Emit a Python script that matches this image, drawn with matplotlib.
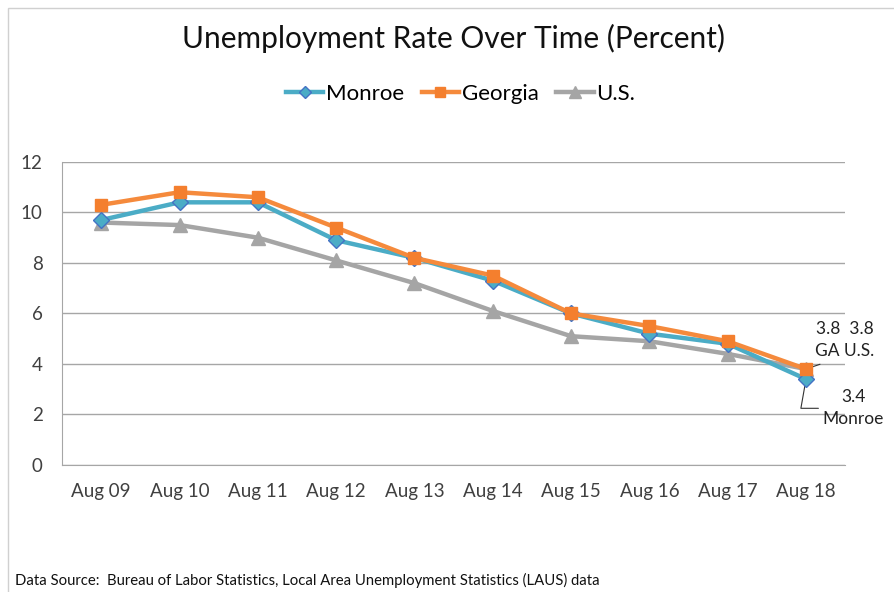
import matplotlib.pyplot as plt
from matplotlib.patches import Rectangle

plt.rcParams['font.family'] = ['Lato', 'DejaVu Sans']

years = ['Aug 09', 'Aug 10', 'Aug 11', 'Aug 12', 'Aug 13',
         'Aug 14', 'Aug 15', 'Aug 16', 'Aug 17', 'Aug 18']
monroe = [9.7, 10.4, 10.4, 8.9, 8.2, 7.3, 6.0, 5.2, 4.8, 3.4]
georgia = [10.3, 10.8, 10.6, 9.4, 8.2, 7.5, 6.0, 5.5, 4.9, 3.8]
us = [9.6, 9.5, 9.0, 8.1, 7.2, 6.1, 5.1, 4.9, 4.4, 3.8]
yticks = [0, 2, 4, 6, 8, 10, 12]

fig = plt.figure(figsize=(8.94, 5.92), dpi=100)
fig.patches.append(Rectangle((0.009, -0.01), 1.2, 0.997, transform=fig.transFigure,
                             fill=False, edgecolor='#d0d0d0', linewidth=1))

ax = fig.add_axes([0.0694, 0.2145, 0.876, 0.512])
x = list(range(len(years)))

ax.plot(x, us, color='#a5a5a5', linewidth=3.2, marker='^', markersize=10,
        markerfacecolor='#a5a5a5', markeredgecolor='#a5a5a5', label='U.S.', zorder=3)
ax.plot(x, monroe, color='#4bacc6', linewidth=3.2, marker='D', markersize=8,
        markerfacecolor='#4bacc6', markeredgecolor='#4472c4', markeredgewidth=1,
        label='Monroe', zorder=4)
ax.plot(x, georgia, color='#f58a3c', linewidth=3.2, marker='s', markersize=9,
        markerfacecolor='#f47f2e', markeredgecolor='#f47f2e', label='Georgia', zorder=5)

ax.set_xlim(-0.5, len(years) - 0.5)
ax.set_ylim(0, 12)
ax.set_yticks(yticks)
ax.set_xticks(x)
ax.set_xticklabels(years)
ax.tick_params(axis='both', length=0, labelsize=13.5, colors='#404040')
ax.tick_params(axis='x', pad=13)
ax.tick_params(axis='y', pad=14)
ax.yaxis.grid(True, color='#a6a6a6', linewidth=1)
ax.set_axisbelow(True)
for s in ['top', 'right']:
    ax.spines[s].set_visible(False)
ax.spines['left'].set_color('#a6a6a6')
ax.spines['bottom'].set_color('#a6a6a6')

# data labels for last point
last = len(years) - 1
ax.annotate('3.8  3.8\nGA U.S.', xy=(last, georgia[last]), xytext=(28, 21),
            textcoords='offset points', ha='center', va='center', fontsize=12.5,
            color='#222222', linespacing=1.45, clip_on=False,
            arrowprops=dict(arrowstyle='-', color='#333333', linewidth=0.8,
                            relpos=(0.35, 0), shrinkA=6, shrinkB=1))
ax.annotate('3.4\nMonroe', xy=(last, monroe[last]), xytext=(34, -21),
            textcoords='offset points', ha='center', va='center', fontsize=12.5,
            color='#222222', linespacing=1.45, clip_on=False,
            arrowprops=dict(arrowstyle='-', color='#333333', linewidth=0.8,
                            relpos=(0, 0.5),
                            connectionstyle='angle,angleA=0,angleB=80,rad=0',
                            shrinkA=1, shrinkB=2))

fig.text(0.507, 0.935, 'Unemployment Rate Over Time (Percent)', ha='center', va='center',
         fontsize=21.5, color='#111111')

handles, labels = ax.get_legend_handles_labels()
order = [1, 2, 0]
fig.legend([handles[i] for i in order], [labels[i] for i in order],
           loc='center', bbox_to_anchor=(0.515, 0.842), ncol=3, frameon=False,
           fontsize=16, handlelength=1.7, handletextpad=0.1, columnspacing=0.8,
           markerscale=0.8)

fig.text(0.017, 0.02, 'Data Source:  Bureau of Labor Statistics, Local Area Unemployment Statistics (LAUS) data',
         fontsize=10.7, color='#111111', ha='left', va='center')

fig.savefig('out.png', dpi=100)
